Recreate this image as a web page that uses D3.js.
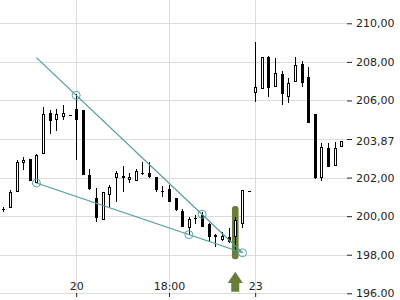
<!DOCTYPE html>
<html><head><meta charset="utf-8">
<script src="https://cdn.jsdelivr.net/npm/d3@7"></script>
<style>
body{margin:0;background:#fff}
svg{display:block}
text{font-family:"DejaVu Sans",sans-serif;font-size:11px;fill:#222}
</style>
</head><body>
<svg id="c" width="400" height="300"></svg>
<script>
// ---- data ----
const open  = [200.35,200.44,201.27,202.79,202.95,201.76,203.26,205.33,204.99,205.18,205.25,205.56,205.50,202.14,200.96,199.84,201.14,202.02,202.08,201.88,201.84,202.22,202.22,202.02,201.30,201.39,200.93,200.29,199.39,199.93,200.06,199.60,199.03,198.80,198.91,198.94,199.63,201.32,206.42,206.63,208.27,206.71,207.36,206.19,206.97,207.89,207.20,205.30,202.02,203.52,202.65,203.60];
const high  = [200.49,201.36,202.91,203.07,202.97,203.22,205.65,205.51,205.54,205.76,205.25,206.32,205.50,202.43,201.48,201.27,201.62,202.36,202.62,202.22,202.43,202.83,202.79,202.03,201.57,201.62,200.95,200.36,199.97,200.06,200.22,199.62,199.10,199.20,199.40,199.94,201.32,201.32,209.05,208.26,208.32,208.22,207.53,207.18,208.24,208.05,207.72,205.31,203.81,203.81,203.86,203.87];
const low   = [200.22,200.43,201.25,202.40,201.82,201.74,203.24,204.26,204.42,204.99,205.25,202.91,202.14,201.36,199.72,199.82,200.49,200.75,201.27,201.74,201.82,202.14,202.00,201.27,201.01,200.73,200.28,199.44,199.03,199.60,199.44,198.68,198.39,198.73,198.60,198.25,199.37,201.32,205.94,206.62,206.19,206.70,205.76,205.85,206.96,206.68,204.84,201.93,201.84,202.55,202.60,203.60];
const close = [200.30,201.24,202.79,202.90,201.84,203.14,205.28,204.95,205.28,205.30,205.25,204.99,202.14,201.39,199.89,201.24,201.48,202.22,201.97,202.02,202.31,202.22,202.02,201.36,201.24,200.75,200.30,199.46,199.84,199.85,199.46,198.91,198.91,198.97,198.66,199.80,201.32,201.32,206.68,208.24,206.63,207.41,206.32,206.89,207.79,206.92,204.85,201.97,203.57,202.57,203.52,203.87];

const yTickValues = [196,198,200,202,204,206,208,210];
const yTickLabels = ["196.00","198,00","200,00","202,00","","206,00","208,00","210,00"];
const lastPrice = 203.87, lastPriceLabel = "203,87";
const xTickIndex  = [11,25,38];
const xTickLabels = ["20","18:00","23"];

const upperTrend = [[5,208.22],[36.1,198.1]];
const lowerTrend = [[5,201.72],[36.1,198.1]];
const touchPoints = [[5,201.72],[11,206.27],[28,199.04],[30,200.1],[36.1,198.1]];
const signalIndex = 35;
const signalRange = [197.77,200.53];

// ---- scales ----
const svg = d3.select("#c");
const x = d3.scaleLinear().domain([0, open.length-1]).range([3.3, 341.3]);
const y = d3.scaleLinear().domain([196,210]).range([293.3, 23.3]);
const px = v => Math.round(v) + 0.5;

const gridRight = 347;
// grid
const g = svg.append("g");
g.selectAll("line.h").data(yTickValues).join("line")
  .attr("x1",0).attr("x2",gridRight)
  .attr("y1",d=>px(y(d))).attr("y2",d=>px(y(d)))
  .attr("stroke","#dcdcdc").attr("stroke-width",1);
g.selectAll("line.v").data(xTickIndex).join("line")
  .attr("x1",d=>px(x(d))).attr("x2",d=>px(x(d)))
  .attr("y1",0).attr("y2",px(y(196)))
  .attr("stroke","#dcdcdc").attr("stroke-width",1);

// signal highlight
const sc = x(signalIndex);
svg.append("rect")
  .attr("x", sc-3.3).attr("width",6.6)
  .attr("y", y(signalRange[1])).attr("height", y(signalRange[0]) - y(signalRange[1]))
  .attr("rx",3).attr("fill","#6b7d3b");

// candles
const idx = d3.range(open.length);
const cg = svg.append("g").attr("shape-rendering","crispEdges");
cg.selectAll("line.w").data(idx).join("line")
  .attr("x1",i=>Math.round(x(i))+0.5).attr("x2",i=>Math.round(x(i))+0.5)
  .attr("y1",i=>y(high[i])).attr("y2",i=>y(low[i]))
  .attr("stroke","#000").attr("stroke-width",1);
cg.selectAll("rect.b").data(idx).join("rect")
  .attr("x",i=> close[i]>open[i] ? Math.round(x(i))-0.5 : Math.round(x(i))-1)
  .attr("width",i=> close[i]>open[i] ? 2 : 3)
  .attr("y",i=>y(Math.max(open[i],close[i])))
  .attr("height",i=>Math.max(1, Math.abs(y(open[i])-y(close[i]))))
  .attr("fill",i=> close[i]>open[i] ? "#fff" : "#000")
  .attr("stroke",i=> close[i]>open[i] ? "#000" : "none")
  .attr("stroke-width",1);

// trend lines
const line = d3.line().x(d=>x(d[0])).y(d=>y(d[1]));
[upperTrend, lowerTrend].forEach(t=>{
  svg.append("path").attr("d",line(t)).attr("fill","none")
    .attr("stroke","#4f9c9c").attr("stroke-width",1.2);
});
svg.selectAll("circle.t").data(touchPoints).join("circle")
  .attr("cx",d=>x(d[0])).attr("cy",d=>y(d[1])).attr("r",4)
  .attr("fill","none").attr("stroke","#5aa3a5").attr("stroke-width",1);

// arrow
svg.append("path")
  .attr("d", `M${sc},271.7 L${sc+7.6},283 L${sc+4},283 L${sc+4},291.7 L${sc-4},291.7 L${sc-4},283 L${sc-7.6},283 Z`)
  .attr("fill","#6b7d3b");

// y axis
const ya = svg.append("g").attr("transform",`translate(${gridRight},0)`)
  .call(d3.axisRight(y).tickValues(yTickValues).tickSize(5).tickPadding(4)
    .tickFormat((d,i)=>yTickLabels[i]));
ya.select(".domain").remove();
ya.selectAll(".tick line").attr("stroke","#222");
ya.selectAll("text").attr("font-family","DejaVu Sans").attr("font-size",11).attr("fill","#222");
svg.append("text").attr("x",gridRight+9).attr("y",y(lastPrice)).attr("dy","0.32em")
  .text(lastPriceLabel);

// x axis
const xa = svg.append("g").attr("transform",`translate(0,${px(y(196))-0.5})`)
  .call(d3.axisBottom(x).tickValues(xTickIndex).tickSize(4)
    .tickFormat((d,i)=>xTickLabels[i]));
xa.select(".domain").remove();
xa.selectAll(".tick line").attr("stroke","#222");
xa.selectAll("text").attr("y",-3).attr("dy",0)
  .attr("font-family","DejaVu Sans").attr("font-size",11).attr("fill","#222");
</script>
</body></html>
